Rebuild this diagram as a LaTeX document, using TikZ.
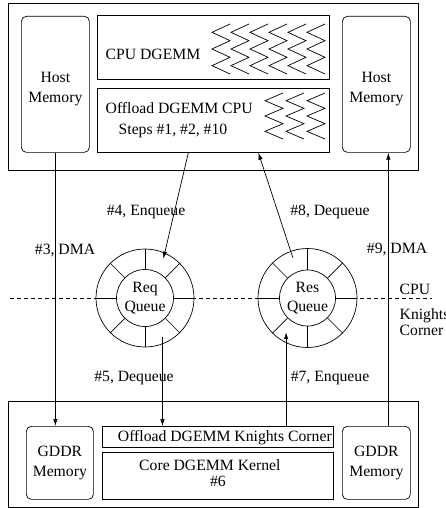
\documentclass[tikz,border=0pt]{standalone}
\usepackage{fontspec}
\setmainfont{Liberation Serif}
\usetikzlibrary{arrows.meta,calc}

\tikzset{
  membox/.style={draw, rounded corners=5pt, anchor=north west, inner sep=0pt},
  workbox/.style={draw, anchor=north west, inner sep=0pt},
  ring/.style={draw, circle, fill=white, inner sep=0pt},
  flow/.style={-{Latex[length=7pt,width=4.5pt]}},
}

\begin{document}
\begin{tikzpicture}[x=1pt, y=-1pt, line width=0.7pt,
  font=\fontsize{15.7}{20}\selectfont]

\useasboundingbox (0,0) rectangle (446,508);

%%%%%%%%%%%%%%%%%%%%%%%%%%%%%%%%%%%%%%%%%%%%%%%%%%%%%%
% HOST (CPU) SIDE
%%%%%%%%%%%%%%%%%%%%%%%%%%%%%%%%%%%%%%%%%%%%%%%%%%%%%%

\node[workbox, minimum width=410pt, minimum height=167pt] (host) at (8,3) {};

\node[membox, minimum width=68pt, minimum height=136pt] (hostmemL) at (21,16) {};
\node[align=center] (hostmemLtxt) at ([yshift=-5pt]hostmemL.center) {Host\\Memory};

\node[workbox, minimum width=232pt, minimum height=64pt] (cpudgemm) at (97,15) {};
\node[anchor=west] (cpudgemmtxt) at ([xshift=5pt,yshift=-7pt]cpudgemm.west) {CPU DGEMM};

\node[workbox, minimum width=232pt, minimum height=64pt] (offcpu) at (97,88) {};
\node[anchor=west] (offcputxt) at ([xshift=5pt,yshift=12pt]offcpu.west) {Offload DGEMM CPU};
\node[anchor=west] (stepstxt) at ([xshift=18pt,yshift=-11pt]offcpu.west) {Steps \#1, \#2, \#10};

\node[membox, minimum width=68pt, minimum height=136pt] (hostmemR) at (342,16) {};
\node[align=center] (hostmemRtxt) at ([yshift=-5pt]hostmemR.center) {Host\\Memory};

% threads
\foreach \i in {0,...,5}
  \draw (230+19*\i,24) -- ++(-18,8.33) -- ++(18,8.33) -- ++(-18,8.33)
    -- ++(18,8.33) -- ++(-18,8.33) -- ++(18,8.33);
\foreach \i in {0,...,2}
  \draw (283+21*\i,93) -- ++(-18,7.67) -- ++(18,7.67) -- ++(-18,7.67)
    -- ++(18,7.67) -- ++(-18,7.67) -- ++(18,7.67);

%%%%%%%%%%%%%%%%%%%%%%%%%%%%%%%%%%%%%%%%%%%%%%%%%%%%%%
% CPU / KNIGHTS CORNER BOUNDARY
%%%%%%%%%%%%%%%%%%%%%%%%%%%%%%%%%%%%%%%%%%%%%%%%%%%%%%

\coordinate (splitL) at (10,298);
\coordinate (splitR) at (432,298);
\draw[dashed, dash pattern=on 4pt off 3pt] (splitL) -- (splitR);

\node[anchor=west] (cputxt) at (396,289) {CPU};
\node[anchor=west, align=left, font=\fontsize{15.7}{15.5}\selectfont]
  (knctxt) at (396,322) {Knights\\Corner};

%%%%%%%%%%%%%%%%%%%%%%%%%%%%%%%%%%%%%%%%%%%%%%%%%%%%%%
% QUEUES
%%%%%%%%%%%%%%%%%%%%%%%%%%%%%%%%%%%%%%%%%%%%%%%%%%%%%%

\node[ring, minimum size=98pt] (reqq) at (145,298) {};
\node[ring, minimum size=57pt, align=center] (reqqin) at (reqq.center)
  {Req\\[-1pt]Queue};
\foreach \a in {0,45,...,315}
  \draw (reqqin.\a) -- (reqq.\a);

\node[ring, minimum size=99pt] (resq) at (307.5,298) {};
\node[ring, minimum size=56pt, align=center] (resqin) at (resq.center)
  {Res\\[-1pt]Queue};
\foreach \a in {0,45,...,315}
  \draw (resqin.\a) -- (resq.\a);

%%%%%%%%%%%%%%%%%%%%%%%%%%%%%%%%%%%%%%%%%%%%%%%%%%%%%%
% KNIGHTS CORNER SIDE
%%%%%%%%%%%%%%%%%%%%%%%%%%%%%%%%%%%%%%%%%%%%%%%%%%%%%%

\node[workbox, minimum width=410pt, minimum height=106pt] (knc) at (8,401) {};

\node[membox, minimum width=67pt, minimum height=73pt, align=center]
  (gddrL) at (26,426) {GDDR\\Memory};

\node[workbox, minimum width=231pt, minimum height=21pt] (offknc) at (102,426) {};
\node (offknctxt) at ([xshift=7pt,yshift=-1pt]offknc.center) {Offload DGEMM Knights Corner};

\node[workbox, minimum width=231pt, minimum height=47pt] (coredgemm) at (102,452) {};
\node (coretxt) at ([xshift=-8pt,yshift=11pt]coredgemm.center) {Core DGEMM Kernel};
\node (sixtxt) at ([yshift=-6pt]coredgemm.center) {\#6};

\node[membox, minimum width=68pt, minimum height=73pt, align=center]
  (gddrR) at (342,426) {GDDR\\Memory};

%%%%%%%%%%%%%%%%%%%%%%%%%%%%%%%%%%%%%%%%%%%%%%%%%%%%%%
% STEPS
%%%%%%%%%%%%%%%%%%%%%%%%%%%%%%%%%%%%%%%%%%%%%%%%%%%%%%

\coordinate (enq) at ($(reqq.center)!0.88!(reqq.65)$);
\coordinate (deq) at ($(reqq.center)!0.87!(reqq.-66)$);
\coordinate (resdeq) at ($(resq.center)!0.86!(resq.110)$);
\coordinate (resenq) at ($(resq.center)!0.81!(resq.-122)$);

\draw[flow] (hostmemL.south) -- (hostmemL.south |- gddrL.north);
\draw[flow] ([xshift=-25pt]offcpu.south) -- (enq);
\draw[flow] (deq) -- (deq |- offknc.north);
\draw[flow] (resenq |- offknc.north) -- (resenq);
\draw[flow] (resdeq) -- ([xshift=45pt]offcpu.south);
\draw[flow] ([xshift=12pt]gddrR.north) -- ([xshift=12pt]hostmemR.south);

\node (dma3) at (65,251) {\#3, DMA};
\node (enq4) at (146,212) {\#4, Enqueue};
\node (deq5) at (134,378) {\#5, Dequeue};
\node (enq7) at (330,378) {\#7, Enqueue};
\node (deq8) at (330,212) {\#8, Dequeue};
\node (dma9) at (397,250) {\#9, DMA};

\end{tikzpicture}
\end{document}
